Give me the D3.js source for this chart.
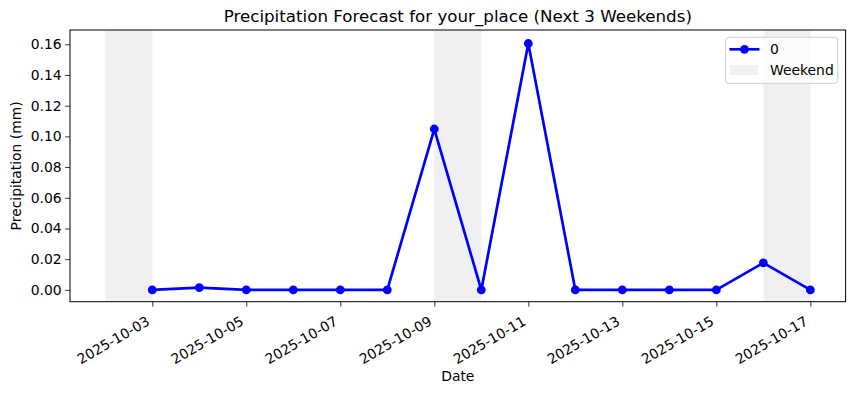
<!DOCTYPE html>
<html><head><meta charset="utf-8">
<script src="https://cdn.jsdelivr.net/npm/d3@7"></script>
<style>body{margin:0;background:#fff}svg{display:block}svg text{font-family:"DejaVu Sans",sans-serif}</style>
</head><body><svg id="c" width="855" height="394"></svg>
<script>
const dates = ["2025-10-03","2025-10-04","2025-10-05","2025-10-06","2025-10-07","2025-10-08","2025-10-09","2025-10-10","2025-10-11","2025-10-12","2025-10-13","2025-10-14","2025-10-15","2025-10-16","2025-10-17"];
const precip = [0, 0.0015, 0, 0, 0, 0, 0.1048, 0, 0.1605, 0, 0, 0, 0, 0.0176, 0];
const weekendStarts = ["2025-10-02","2025-10-09","2025-10-16"];
const weekendEnds = ["2025-10-03","2025-10-10","2025-10-17"];
const xTicks = ["2025-10-03","2025-10-05","2025-10-07","2025-10-09","2025-10-11","2025-10-13","2025-10-15","2025-10-17"];
const yTicks = [0,0.02,0.04,0.06,0.08,0.10,0.12,0.14,0.16];
const seriesName = "0";
const title = "Precipitation Forecast for your_place (Next 3 Weekends)";

const parse = d3.utcParse("%Y-%m-%d");
const L=70, R=845.6, T=30, B=301.7;
const day = 86400000;
const x = d3.scaleUtc().domain([new Date(+parse("2025-10-02")-0.75*day), new Date(+parse("2025-10-17")+0.75*day)]).range([L,R]);
const y = d3.scaleLinear().domain([-0.0077, 0.1693]).range([B,T]);
const svg = d3.select("#c");

svg.append("g").selectAll("rect").data(weekendStarts).join("rect")
  .attr("x", d=>x(parse(d))).attr("width",(d,i)=>x(parse(weekendEnds[i]))-x(parse(d)))
  .attr("y",T).attr("height",B-T).attr("fill","#f0f0f0");

const pts = dates.map((d,i)=>({d:parse(d),v:precip[i]}));
svg.append("path").datum(pts).attr("fill","none").attr("stroke","#0000ff").attr("stroke-width",2.7)
  .attr("stroke-linejoin","round")
  .attr("d", d3.line().x(p=>x(p.d)).y(p=>y(p.v)));
svg.append("g").selectAll("circle").data(pts).join("circle")
  .attr("cx",p=>x(p.d)).attr("cy",p=>y(p.v)).attr("r",4.4).attr("fill","#0000ff");

// axes
const xa = svg.append("g").attr("transform",`translate(0,${B})`)
  .call(d3.axisBottom(x).tickValues(xTicks.map(parse)).tickFormat(d3.utcFormat("%Y-%m-%d")).tickSize(4.9).tickSizeOuter(0));
xa.attr("font-family",null).attr("font-size",null);
xa.select(".domain").remove();
xa.selectAll("line").attr("stroke","#000").attr("stroke-width",0.8);
xa.selectAll("text").attr("font-size","13.9px").attr("fill","#000")
  .attr("text-anchor","end").attr("dy",null).attr("y",null)
  .attr("transform","translate(-2,22.5) rotate(-30)");

const ya = svg.append("g").attr("transform",`translate(${L},0)`)
  .call(d3.axisLeft(y).tickValues(yTicks).tickFormat(d3.format(".2f")).tickSize(4.9).tickSizeOuter(0));
ya.attr("font-family",null).attr("font-size",null);
ya.select(".domain").remove();
ya.selectAll("line").attr("stroke","#000").attr("stroke-width",0.8);
ya.selectAll("text").attr("font-size","13.9px").attr("fill","#000").attr("x",-8.4);

svg.append("rect").attr("x",L).attr("y",T).attr("width",R-L).attr("height",B-T)
  .attr("fill","none").attr("stroke","#000").attr("stroke-width",1);

svg.append("text").attr("x",(L+R)/2).attr("y",22).attr("text-anchor","middle").attr("font-size","16.7px").text(title);
svg.append("text").attr("x",(L+R)/2).attr("y",381).attr("text-anchor","middle").attr("font-size","13.9px").text("Date");
svg.append("text").attr("transform",`translate(21,${(T+B)/2}) rotate(-90)`).attr("text-anchor","middle").attr("font-size","13.9px").text("Precipitation (mm)");

// legend
const lg = svg.append("g");
lg.append("rect").attr("x",725.7).attr("y",37.3).attr("width",112).attr("height",46).attr("rx",3)
  .attr("fill","#fff").attr("fill-opacity",0.8).attr("stroke","#d0d0d0").attr("stroke-width",1);
lg.append("line").attr("x1",729.5).attr("x2",759.5).attr("y1",49.3).attr("y2",49.3).attr("stroke","#0000ff").attr("stroke-width",2.7);
lg.append("circle").attr("cx",744.5).attr("cy",49.3).attr("r",4.4).attr("fill","#0000ff");
lg.append("text").attr("x",770).attr("y",54.3).attr("font-size","13.9px").text(seriesName);
lg.append("rect").attr("x",730).attr("y",65).attr("width",28).attr("height",10).attr("fill","#f0f0f0");
lg.append("text").attr("x",770).attr("y",75).attr("font-size","13.9px").text("Weekend");
</script></body></html>
